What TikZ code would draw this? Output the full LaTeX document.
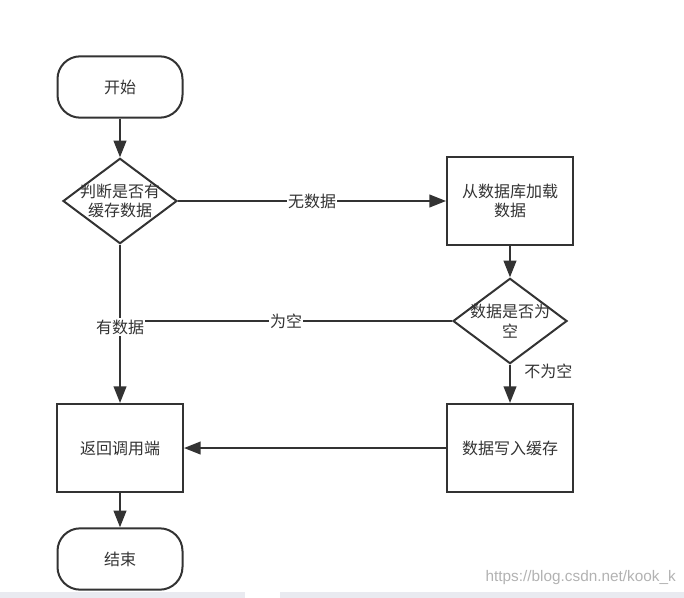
\documentclass[tikz,border=0pt]{standalone}
\usepackage{fontspec}
\setmainfont{Noto Sans CJK SC}
\newfontfamily\urlfont{Liberation Sans}
\usetikzlibrary{shapes.geometric,arrows.meta}

\definecolor{linegray}{RGB}{51,51,51}
\definecolor{bandgray}{RGB}{233,234,240}

\tikzset{
  flowline/.style={draw=linegray, line width=1.5pt},
  flowarrow/.style={flowline, -{Triangle[length=12.5pt,width=9.5pt]}},
  terminal/.style={flowline, rounded corners=17pt, minimum width=93.75pt, minimum height=46pt, inner sep=0pt, text=linegray},
  process/.style={flowline, minimum width=94.5pt, minimum height=66pt, inner sep=0pt, align=center, text=linegray},
  decision/.style={flowline, diamond, minimum width=85.5pt, minimum height=64pt, inner sep=0pt},
  edgelabel/.style={fill=white, inner sep=1pt, text=linegray}
}

\begin{document}
\begin{tikzpicture}[x=0.75pt,y=0.75pt,yscale=-1,xscale=1,font=\fontsize{12}{14.5}\selectfont]
\useasboundingbox (0,0) rectangle (684,598);
%background band
\fill [bandgray] (0,592) rectangle (684,598);
\fill [white] (245,592) rectangle (280,598);

% Nodes
\node [terminal] (start) at (120,87) {开始};
\node [decision, label={[align=center, text=linegray, inner sep=0pt]center:判断是否有\\缓存数据}] (cache) at (120,201) {};
\node [process] (load) at (510,201) {从数据库加载\\数据};
\node [decision, label={[align=center, text=linegray, inner sep=0pt]center:数据是否为\\空}] (empty) at (510,321) {};
\node [process] (write) at (510,448) {数据写入缓存};
\node [process] (ret) at (120,448) {返回调用端};
\node [terminal] (stop) at (120,559) {结束};
\coordinate (join) at (120,321);

% Connectors
\draw [flowarrow] (start) -- (cache);
\draw [flowarrow] (cache) -- node [edgelabel] {无数据} (load);
\draw [flowarrow] (load) -- (empty);
\draw [flowline] (empty.west) -- node [edgelabel] {为空} (join);
\draw [flowarrow] (cache) -- node [edgelabel, pos=0.52] {有数据} (ret);
\draw [flowarrow] (empty) -- node [pos=0.18, anchor=west, xshift=10pt, text=linegray, inner sep=0pt] {不为空} (write);
\draw [flowarrow] (write) -- (ret);
\draw [flowarrow] (ret) -- (stop);

% Watermark
\node [anchor=east, text=black!30, inner sep=0pt, font=\urlfont\fontsize{11.5}{13}\selectfont] (mark) at (676,578) {https://blog.csdn.net/kook\_k};

\end{tikzpicture}
\end{document}
